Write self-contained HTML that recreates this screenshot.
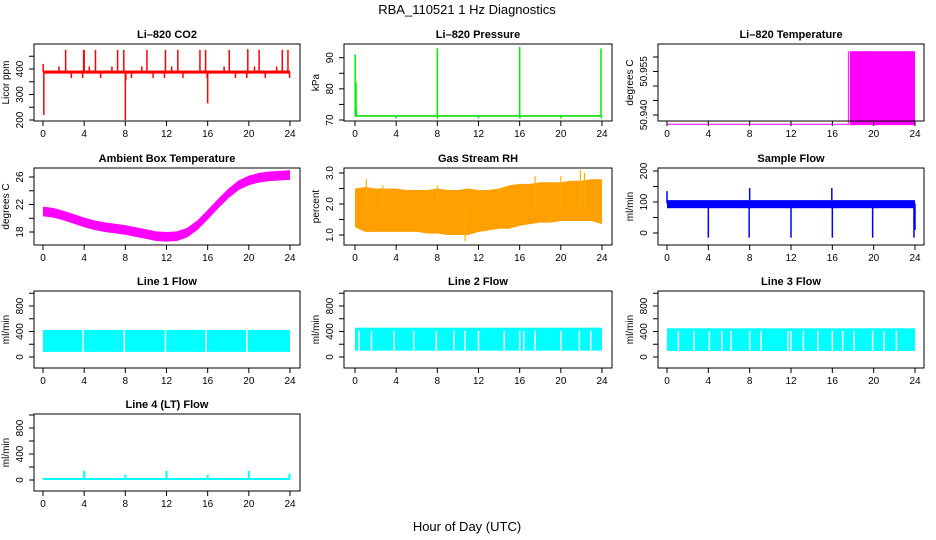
<!DOCTYPE html>
<html><head><meta charset="utf-8">
<style>
html,body{margin:0;padding:0;background:#fff;}
svg{display:block;font-family:"Liberation Sans",Arial,sans-serif;}
</style></head>
<body>
<svg id="chart" width="936" height="540" viewBox="0 0 936 540">
<text x="467" y="14" text-anchor="middle" font-size="13">RBA_110521  1 Hz Diagnostics</text>
<text x="467" y="531" text-anchor="middle" font-size="13">Hour of Day (UTC)</text>
</svg>
<script>
// ---- data ----
const xTicks = [0,4,8,12,16,20,24];
const hours = [0,1,2,3,4,5,6,7,8,9,10,11,12,13,14,15,16,17,18,19,20,21,22,23,24];

const co2Low = 382, co2High = 394;
const co2SpikeT = [0.02,0.08,1.55,2.2,2.75,3.85,3.95,4.0,4.5,5.1,5.6,6.7,7.25,7.85,8.0,8.05,8.6,9.6,10.1,10.7,11.8,11.9,12.5,13.1,13.6,15.25,15.8,15.95,16.0,17.6,18.1,18.7,19.8,19.9,20.55,21.0,21.6,22.7,23.25,23.8,23.96];
const co2SpikeV = [420,220,410,475,365,365,475,475,410,475,365,410,475,475,200,355,365,410,475,365,365,475,410,475,365,475,475,365,265,410,475,365,365,478,410,475,365,410,475,475,365];

const presBase = 71.3;
const presSpikeT = [0.02,0.1,0.12,4.0,8.0,8.02,12.0,16.0,16.02,20.0,23.9,23.95];
const presSpikeV = [91,82,74,70.5,93,70.5,70.5,93.5,70.5,70.5,93,70.5];

const tempLineV = 50.9368, tempSwitchT = 17.55, tempFillLow = 50.9365, tempFillHigh = 50.962;

const ambMid = [21,20.8,20.4,19.9,19.4,19.0,18.7,18.5,18.3,18.0,17.7,17.4,17.3,17.4,17.9,19.0,20.5,22.1,23.6,24.8,25.5,25.9,26.1,26.2,26.3];
const ambHalf = 0.7;

const rhHigh = [2.5,2.55,2.5,2.5,2.5,2.45,2.45,2.45,2.5,2.45,2.45,2.5,2.45,2.45,2.5,2.6,2.65,2.65,2.7,2.7,2.7,2.75,2.75,2.8,2.8];
const rhLow = [1.25,1.1,1.1,1.1,1.1,1.1,1.1,1.05,1.05,1.0,1.0,1.0,1.1,1.15,1.2,1.2,1.3,1.35,1.4,1.4,1.45,1.45,1.45,1.45,1.35];
const rhSpikeT = [1.1,2.7,8.0,10.7,17.5,20.0,21.9,22.3];
const rhSpikeV = [2.8,2.6,2.6,0.8,2.9,2.9,3.1,3.0];

const sfLow = 80, sfHigh = 106;
const sfSpikeT = [0.0,4.0,7.95,8.0,12.0,15.95,16.0,19.9,23.9,24.0];
const sfSpikeV = [135,-15,-15,145,-15,145,-15,-15,-15,10];

const l1Low = 80, l1High = 425;
const l1GapT = [3.9,7.9,11.9,15.85,19.8];
const l2Low = 100, l2High = 460;
const l2GapT = [0.4,1.6,3.8,5.7,7.9,9.6,10.7,12.0,14.5,16.0,16.4,17.5,20.0,21.8,22.9];
const l3Low = 95, l3High = 450;
const l3GapT = [1.1,2.6,4.1,5.3,6.2,8.0,9.1,11.7,12.0,13.2,14.6,16.0,17.0,18.1,19.9,21.0,22.2];

const l4Low = 0, l4High = 30;
const l4SpikeT = [4.0,8.0,12.0,16.0,20.0,23.95];
const l4SpikeV = [140,80,140,80,140,100];

// ---- layout ----
const NS = "http://www.w3.org/2000/svg";
const svg = document.getElementById('chart');
function mk(tag, attrs, parent){ const e=document.createElementNS(NS,tag); for(const k in attrs) e.setAttribute(k,attrs[k]); (parent||svg).appendChild(e); return e; }
const cols = [{l:34,r:300,x0:43,x24:290},{l:344,r:612,x0:355,x24:602},{l:658,r:924,x0:667,x24:915}];
const rowTops = [44,168,291,414];
const BH = 77;

function panel(ci, ri, name, title, ylab, v0, y0, v1, y1, ticks, labels){
  const c = cols[ci], top = rowTops[ri], bot = top+BH;
  const g = mk('g',{});
  
  
  const X = t => c.x0 + t*(c.x24-c.x0)/24;
  const Y = v => y0 + (v-v0)*(y1-y0)/(v1-v0);
  const marks = mk('g',{},g);
  
  
  const t = mk('text',{x:(c.l+c.r)/2,y:top-6,'text-anchor':'middle','font-size':11,'font-weight':'bold'},g);
  t.textContent = title;
  
  
  const frame = mk('rect',{x:c.l,y:top,width:c.r-c.l,height:BH,fill:'none',stroke:'#000','stroke-width':1},g);
  
  
  xTicks.forEach(v=>{
    const x=X(v);
    mk('line',{x1:x,x2:x,y1:bot,y2:bot+5,stroke:'#000'},g);
    const tx=mk('text',{x:x,y:bot+16,'text-anchor':'middle','font-size':10},g);
    tx.textContent=v;
    
    
  });
  ticks.forEach(v=>{
    const y=Y(v);
    mk('line',{x1:c.l,x2:c.l-5,y1:y,y2:y,stroke:'#000'},g);
  });
  labels.forEach(v=>{
    const y=Y(v);
    const tx=mk('text',{x:c.l-11,y:y,'text-anchor':'middle','font-size':10,transform:`rotate(-90 ${c.l-11} ${y})`},g);
    tx.textContent=v;
    
    
  });
  const yl=mk('text',{x:c.l-25,y:top+BH/2,'text-anchor':'middle','font-size':10,transform:`rotate(-90 ${c.l-25} ${top+BH/2})`},g);
  yl.textContent=ylab;
  
  
  return {X,Y,g:marks};
}
function band(p, lowArr, highArr, fill){
  let pts=[];
  hours.forEach((h,i)=>pts.push(p.X(h)+','+p.Y(highArr[i])));
  for(let i=hours.length-1;i>=0;i--) pts.push(p.X(hours[i])+','+p.Y(lowArr[i]));
  const e=mk('polygon',{points:pts.join(' '),fill:fill,stroke:'none'},p.g);
  
  
}
function flatBand(p, lo, hi, t0, t1, fill){
  const e=mk('rect',{x:p.X(t0),y:p.Y(hi),width:p.X(t1)-p.X(t0),height:p.Y(lo)-p.Y(hi),fill:fill},p.g);
  
  
}
function spikes(p, ts, vs, base, color, w){
  ts.forEach((t,i)=>{
    const e=mk('line',{x1:p.X(t),x2:p.X(t),y1:p.Y(base),y2:p.Y(vs[i]),stroke:color,'stroke-width':w||1.5},p.g);
    
    
  });
}
function gaps(p, ts, lo, hi){
  ts.forEach(t=>{
    const e=mk('line',{x1:p.X(t),x2:p.X(t),y1:p.Y(lo)+1,y2:p.Y(hi),stroke:'#fff','stroke-width':1.5},p.g);
    
    
  });
}

// CO2
let p = panel(0,0,'co2-panel','Li\u2013820 CO2','Licor ppm',200,120,400,69,[200,250,300,350,400,450],[200,300,400]);
flatBand(p,co2Low,co2High,0,24,'#ff0000');
spikes(p,co2SpikeT,co2SpikeV,388,'#ff0000',1.5);

// Pressure
p = panel(1,0,'pressure-panel','Li\u2013820 Pressure','kPa',70,120,90,57.7,[70,75,80,85,90],[70,80,90]);
flatBand(p,presBase-0.25,presBase+0.25,0,24,'#00dd00');
spikes(p,presSpikeT,presSpikeV,presBase,'#00ee00',1.5);

// Li-820 temperature
p = panel(2,0,'li820-temp-panel','Li\u2013820 Temperature','degrees C',50.940,115,50.955,71.5,[50.940,50.945,50.950,50.955,50.960],['50.940','50.955']);
(function(){
  const e=mk('line',{x1:p.X(0),x2:p.X(tempSwitchT),y1:p.Y(tempLineV),y2:p.Y(tempLineV),stroke:'#ff00ff','stroke-width':1},p.g);
   
  const v=mk('line',{x1:p.X(tempSwitchT),x2:p.X(tempSwitchT),y1:p.Y(tempFillLow),y2:p.Y(tempFillHigh),stroke:'#ff00ff','stroke-width':1},p.g);
   
})();
flatBand(p,tempFillLow,tempFillHigh,tempSwitchT+0.15,24,'#ff00ff');

// Ambient
p = panel(0,1,'ambient-temp-panel','Ambient Box Temperature','degrees C',18,232,26,177,[18,20,22,24,26],[18,22,26]);
band(p, ambMid.map(v=>v-ambHalf), ambMid.map(v=>v+ambHalf), '#ff00ff');

// RH
p = panel(1,1,'rh-panel','Gas Stream RH','percent',1.0,235,3.0,173,[1.0,1.5,2.0,2.5,3.0],['1.0','2.0','3.0']);
band(p, rhLow, rhHigh, '#ff9f00');
spikes(p,rhSpikeT,rhSpikeV,1.9,'#ffb000',1.2);

// Sample flow
p = panel(2,1,'sample-flow-panel','Sample Flow','ml/min',0,233,200,171,[0,50,100,150,200],[0,100,200]);
flatBand(p,sfLow,sfHigh,0,24,'#0000ff');
spikes(p,sfSpikeT,sfSpikeV,95,'#0000ff',1.5);

// Line 1
p = panel(0,2,'line1-flow-panel','Line 1 Flow','ml/min',0,357,800,306,[0,200,400,600,800,1000],[0,400,800]);
flatBand(p,l1Low,l1High,0,24,'#00ffff');
gaps(p,l1GapT,l1Low,l1High);

// Line 2
p = panel(1,2,'line2-flow-panel','Line 2 Flow','ml/min',0,357,800,306,[0,200,400,600,800,1000],[0,400,800]);
flatBand(p,l2Low,l2High,0,24,'#00ffff');
gaps(p,l2GapT,l2Low,410);

// Line 3
p = panel(2,2,'line3-flow-panel','Line 3 Flow','ml/min',0,357,800,306,[0,200,400,600,800,1000],[0,400,800]);
flatBand(p,l3Low,l3High,0,24,'#00ffff');
gaps(p,l3GapT,l3Low,410);

// Line 4
p = panel(0,3,'line4-flow-panel','Line 4 (LT) Flow','ml/min',0,480,800,428,[0,200,400,600,800,1000],[0,400,800]);
flatBand(p,l4Low,l4High,0,24,'#00ffff');
spikes(p,l4SpikeT,l4SpikeV,10,'#00ffff',2);
</script>
</body></html>
